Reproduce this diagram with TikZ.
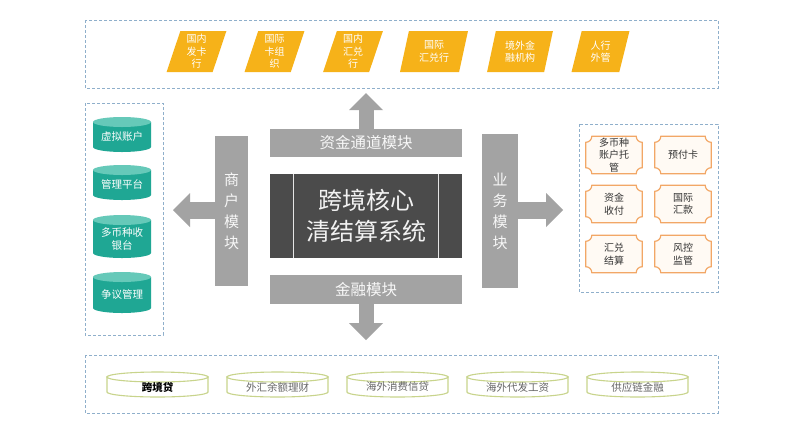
\documentclass[tikz,border=0pt]{standalone}
\usepackage{fontspec}
\setmainfont{Noto Sans CJK SC}
\usetikzlibrary{positioning,arrows.meta,calc,shapes.geometric,backgrounds}
\definecolor{laneBlue}{HTML}{8FAFCB}
\definecolor{bankGold}{HTML}{F6B219}
\definecolor{drumTeal}{HTML}{1FA794}
\definecolor{drumTop}{HTML}{66C9B9}
\definecolor{moduleGray}{HTML}{A3A3A3}
\definecolor{coreDark}{HTML}{4B4B4B}
\definecolor{plaqueEdge}{HTML}{F2A766}
\definecolor{plaqueFill}{HTML}{FFFAF4}
\definecolor{loanOlive}{HTML}{C8D48C}

\tikzset{
  lane/.style={draw=laneBlue, dash pattern=on 3pt off 2pt, line width=0.9pt},
  bank/.style={trapezium, trapezium left angle=76, trapezium right angle=104,
    trapezium stretches=true, fill=bankGold, text=white, minimum height=41pt,
    inner sep=0pt, align=center, font=\fontsize{10}{12.5}\selectfont},
  module/.style={fill=moduleGray, text=white!94!gray, inner sep=0pt, align=center,
    font=\fontsize{15.5}{21}\selectfont},
  blockarrow/.style={draw=moduleGray, line width=#1,
    -{Triangle[length=17pt, width=34pt, line width=0pt]}},
  drumtext/.style={text=white, align=center, font=\fontsize{10.5}{13}\selectfont},
  plaque/.style={minimum width=56pt, minimum height=37pt, inner sep=0pt, align=center,
    text=black!80, font=\fontsize{10}{12.5}\selectfont},
  plaqueline/.style={draw=plaqueEdge, fill=plaqueFill, line width=1.2pt},
  loan/.style={draw=loanOlive, fill=white, line width=1.1pt},
  loantext/.style={font=\fontsize{10.5}{12}\selectfont}
}

\begin{document}
\begin{tikzpicture}[x=1pt, y=-1pt]
  \useasboundingbox (0,0) rectangle (800,424);
  \begin{scope}[on background layer]
    \fill[white] (0,0) rectangle (800,424);
  \end{scope}

  % outer dashed lanes
  \draw[lane] (85,20) rectangle (718,88);
  \draw[lane] (85,103) rectangle (163,335);
  \draw[lane] (579,124) rectangle (718,292);
  \draw[lane] (85,355) rectangle (718,413);

  % top row: partner institutions
  \foreach \x/\w/\lbl [count=\i] in {196.5/60/{国内\\发卡\\行}, 274.5/60/{国际\\卡组\\织},
      353/60/{国内\\汇兑\\行}, 434/68/{国际\\汇兑行}, 520/66/{境外金\\融机构}, 600.5/58/{人行\\外管}} {
    \node[bank, minimum width=\w pt] (inst\i) at (\x,51.5) {\lbl};
  }

  % left lane: merchant services as drums
  \foreach \t/\b/\lbl [count=\i] in {122/147/虚拟账户, 170/195/管理平台,
      220/253/{多币种收\\银台}, 277/308/争议管理} {
    \fill[drumTeal] (93,\t) -- (93,\b) arc[start angle=180, end angle=360, x radius=29pt, y radius=5pt]
      -- (151,\t) -- cycle;
    \fill[drumTop] (122,\t) ellipse [x radius=29pt, y radius=5pt];
    \node[drumtext] (acct\i) at (122,{(\t+\b)/2+2}) {\lbl};
  }

  % right lane: business services
  \foreach \x/\y/\lbl [count=\i] in {614/155/{多币种\\账户托\\管}, 683/155/预付卡,
      614/204/{资金\\收付}, 683/204/{国际\\汇款}, 614/254/{汇兑\\结算}, 683/254/{风控\\监管}} {
    \node[plaque] (svc\i) at (\x,\y) {\lbl};
    \begin{scope}[on background layer]
      \filldraw[plaqueline] ($(svc\i.north west)+(6pt,0)$) -- ($(svc\i.north east)+(-6pt,0)$)
        arc[start angle=180, end angle=270, radius=6pt] -- ($(svc\i.south east)+(0,6pt)$)
        arc[start angle=90, end angle=180, radius=6pt] -- ($(svc\i.south west)+(6pt,0)$)
        arc[start angle=0, end angle=90, radius=6pt] -- ($(svc\i.north west)+(0,-6pt)$)
        arc[start angle=270, end angle=360, radius=6pt] -- cycle;
    \end{scope}
  }

  % bottom lane: financial products
  \foreach \x/\lbl/\ink [count=\i] in {107/\textbf{跨境贷}/black, 227/外汇余额理财/black!60,
      347/海外消费信贷/black!60, 467/海外代发工资/black!60, 587/供应链金融/black!60} {
    \filldraw[loan] (\x,377) -- (\x,392) arc[start angle=180, end angle=360, x radius=50.5pt, y radius=5pt]
      -- (\x+101,377) -- cycle;
    \filldraw[loan] (\x+50.5,377) ellipse [x radius=50.5pt, y radius=5pt];
    \node[loantext, text=\ink] (prod\i) at (\x+50.5,387) {\lbl};
  }

  % core and its four modules
  \node[fill=coreDark, minimum width=192pt, minimum height=84pt, inner sep=0pt, align=center,
    text=white!90!gray, font=\fontsize{24}{31}\selectfont] (core) at (366,216) {跨境核心\\清结算系统};
  \draw[white!80!gray, line width=0.8pt] ($(core.north west)+(24pt,0)$) -- ($(core.south west)+(24pt,0)$);
  \draw[white!80!gray, line width=0.8pt] ($(core.north east)+(-24pt,0)$) -- ($(core.south east)+(-24pt,0)$);

  \node[module, minimum width=192pt, minimum height=28pt] (fund) at (366,143) {资金通道模块};
  \node[module, minimum width=192pt, minimum height=29pt] (fin) at (366,289.5) {金融模块};
  \node[module, minimum width=33pt, minimum height=150pt, font=\fontsize{15}{21}\selectfont]
    (merchant) at (231.5,211) {商\\户\\模\\块};
  \node[module, minimum width=36pt, minimum height=154pt, font=\fontsize{15}{21}\selectfont]
    (biz) at (500,211) {业\\务\\模\\块};

  \coordinate (fundtip) at (366,93);
  \coordinate (fintip) at (366,340);
  \coordinate (merchanttip) at (173,210);
  \coordinate (biztip) at (563,210);
  \draw[blockarrow=15pt] (fund.north) -- (fundtip);
  \draw[blockarrow=15pt] (fin.south) -- (fintip);
  \draw[blockarrow=17pt] (merchant.west |- merchanttip) -- (merchanttip);
  \draw[blockarrow=17pt] (biz.east |- biztip) -- (biztip);
\end{tikzpicture}
\end{document}
